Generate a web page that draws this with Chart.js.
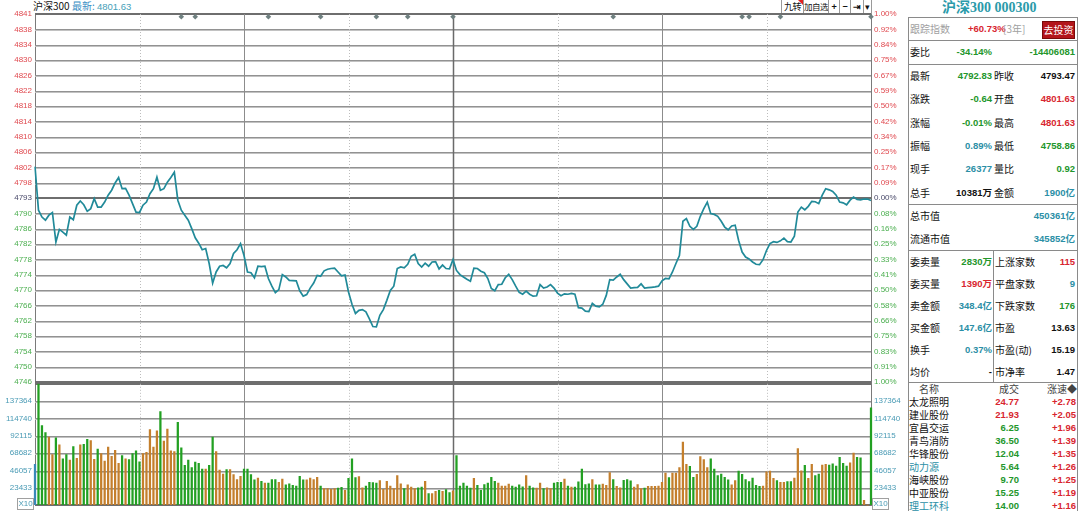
<!DOCTYPE html>
<html>
<head>
<meta charset="utf-8">
<script src="https://cdn.jsdelivr.net/npm/chart.js"></script>
<style>
  body { margin: 0; background: #fff; }
  #wrap { position: relative; width: 1080px; height: 511px; overflow: hidden; background: #fff;
          font-family: 'Noto Sans CJK SC', 'Liberation Sans', sans-serif; }
  canvas { position: absolute; left: 0; }
  .t { position: absolute; white-space: nowrap; font-size: 10px; line-height: 14px; color: #111; }
  .n { font-family: 'Liberation Sans', Arial, 'Noto Sans CJK SC', sans-serif; font-weight: bold; font-size: 9.5px; }
  .hl { position: absolute; height: 1px; background: #8a8a8a; }
  .vl { position: absolute; width: 1px; background: #8a8a8a; }
  .btn { position: absolute; top: 0; height: 13px; border: 1px solid #9a9a9a; border-top: none; font-size: 9px;
         line-height: 13px; text-align: center; color: #111; background: #fff; white-space: nowrap;
         overflow: hidden; letter-spacing: -0.5px; }
  .x10 { position: absolute; width: 15px; height: 10px; border: 1px solid #a0a0a0; font: 8px 'Liberation Sans', Arial;
         line-height: 10px; text-align: center; color: #4a9bb5; }
</style>
</head>
<body>
<div id="wrap">
  <div class="t" style="left:33px;top:-1px;font-size:10px">沪深300 <span style="color:#3b8ec4">最新:</span> <span class="n" style="color:#46a0b8;font-weight:normal;font-size:9.5px">4801.63</span></div>
  <div class="btn" style="left:781px;width:21px">九转<span style="position:absolute;right:0;top:0;width:0;height:0;border-left:5px solid transparent;border-top:5px solid #e02020"></span></div>
  <div class="btn" style="left:803px;width:24px;font-size:8.5px">加自选</div>
  <div class="btn" style="left:828px;width:10px;font-weight:bold">+</div>
  <div class="btn" style="left:839px;width:10px;font-weight:bold">−</div>
  <div class="btn" style="left:850px;width:12px;font-weight:bold">⇥</div>
  <div class="btn" style="left:863px;width:7px">▾</div>

  <canvas id="priceCanvas" width="906" height="390" style="top:0"></canvas>
  <canvas id="volCanvas" width="906" height="137" style="top:376px"></canvas>
  <div class="x10" style="left:17px;top:498px">X10</div>
  <div class="x10" style="left:872px;top:498px">X10</div>

  <div id="panel"></div>
</div>

<script>
// ---- chart data ----
const prevClose = 4793.47;
const rangePct = 0.01;

// one point per minute, 09:30 .. 11:30 / 13:01 .. 15:00
const prices = [
  4801.63, 4790.3, 4788.5, 4787.7, 4789.0, 4789.7, 4782.0, 4785.3, 4784.6, 4783.8,
  4788.5, 4787.8, 4791.6, 4792.7, 4791.7, 4790.0, 4790.7, 4793.3, 4791.1, 4791.1,
  4792.4, 4794.2, 4795.5, 4797.4, 4798.8, 4795.9, 4796.0, 4794.2, 4792.0, 4789.8,
  4789.7, 4791.6, 4792.4, 4794.6, 4795.9, 4798.9, 4795.5, 4795.9, 4797.6, 4798.8,
  4800.2, 4792.9, 4790.3, 4789.0, 4787.7, 4785.5, 4783.1, 4781.7, 4780.0, 4780.3,
  4776.4, 4771.3, 4774.2, 4775.7, 4775.9, 4775.3, 4776.4, 4779.0, 4780.0, 4781.6,
  4778.5, 4774.2, 4774.0, 4772.7, 4775.7, 4775.6, 4775.7, 4772.5, 4770.5, 4768.8,
  4769.6, 4773.5, 4772.9, 4772.0, 4771.95, 4771.9, 4769.3, 4767.9, 4768.3, 4770.0,
  4771.3, 4773.3, 4773.1, 4774.5, 4774.9, 4775.1, 4775.2, 4774.2, 4773.2, 4773.4,
  4769.0, 4765.8, 4763.4, 4764.2, 4764.4, 4763.8, 4762.0, 4760.0, 4759.9, 4762.9,
  4764.4, 4766.8, 4769.4, 4770.5, 4775.1, 4775.5, 4775.3, 4776.2, 4778.3, 4778.8,
  4776.4, 4775.5, 4776.5, 4775.7, 4776.8, 4776.9, 4775.0, 4776.0, 4775.1, 4775.0,
  4777.4, 4774.6, 4773.5, 4772.9, 4772.3, 4771.8, 4775.2, 4775.1, 4774.4, 4774.0,
  4772.5, 4769.9, 4769.3, 4770.9, 4771.0, 4772.7, 4773.6, 4772.2, 4770.5, 4768.9,
  4768.4, 4769.2, 4768.4, 4767.9, 4768.0, 4770.9, 4770.0, 4770.3, 4770.9, 4770.0,
  4768.7, 4768.0, 4768.5, 4768.4, 4768.6, 4768.4, 4764.9, 4764.8, 4764.0, 4763.9,
  4766.0, 4765.3, 4765.1, 4765.8, 4768.1, 4772.2, 4772.1, 4772.9, 4773.6, 4772.2,
  4771.1, 4770.0, 4770.1, 4770.2, 4771.1, 4770.0, 4770.1, 4770.2, 4770.3, 4770.5,
  4771.9, 4772.5, 4772.4, 4774.2, 4776.4, 4778.5, 4787.4, 4788.1, 4786.1, 4785.3,
  4786.1, 4788.7, 4790.7, 4792.4, 4789.4, 4789.2, 4788.7, 4787.4, 4785.9, 4785.2,
  4786.2, 4786.4, 4782.4, 4779.4, 4778.1, 4777.6, 4776.8, 4776.2, 4776.1, 4777.4,
  4779.8, 4781.6, 4782.1, 4781.9, 4782.3, 4783.0, 4782.1, 4782.0, 4783.5, 4789.8,
  4791.1, 4790.4, 4791.3, 4792.6, 4792.5, 4792.0, 4794.2, 4795.9, 4795.6, 4795.2,
  4794.2, 4792.4, 4792.2, 4791.7, 4792.9, 4793.7, 4793.1, 4793.0, 4793.2, 4793.2,
  4792.83
];

const volumes = [
  53300, 158000, 104000, 94800, 89000, 66000, 88000, 78700, 60500, 66000,
  58800, 76600, 61000, 78700, 79500, 85900, 84200, 60000, 73200, 67300,
  57500, 75700, 63900, 71500, 54600, 64700, 60500, 59600, 67300, 71000,
  56700, 67300, 69000, 98600, 75700, 96900, 122000, 83800, 99400, 71000,
  69800, 108000, 74900, 52000, 58800, 49000, 56300, 54600, 47000, 47000,
  52000, 89000, 70000, 45700, 40600, 46500, 46500, 39800, 33400, 37600,
  47000, 47000, 40000, 33000, 35500, 31000, 29000, 29000, 33400, 33400,
  30000, 34000, 26600, 28000, 25800, 25000, 37600, 33000, 33000, 35500,
  33400, 36400, 25000, 21600, 21600, 20700, 21600, 22400, 23300, 19500,
  35000, 60500, 36000, 37200, 22800, 25000, 30000, 29600, 29000, 32000,
  20700, 31000, 25000, 21600, 38500, 28000, 21600, 26600, 23700, 21600,
  22800, 23700, 31300, 15200, 15200, 18200, 19500, 18200, 20300, 16500,
  18600, 64700, 25000, 28800, 25000, 22400, 35000, 25800, 19500, 27000,
  29000, 36400, 31300, 29000, 25000, 25000, 27500, 25000, 23700, 26600,
  24100, 38500, 25000, 22800, 22400, 29000, 21600, 22800, 21600, 29000,
  30000, 30000, 34000, 25000, 23700, 23700, 30500, 47000, 27000, 28000,
  33400, 26600, 26600, 27500, 25800, 42700, 33400, 24500, 22800, 32600,
  33400, 31700, 23700, 27000, 21600, 22400, 24500, 24500, 24500, 25000,
  30000, 41900, 36000, 41900, 41900, 49000, 82500, 53300, 50800, 36400,
  40200, 63500, 59600, 49000, 60500, 47000, 38500, 40600, 36400, 33000,
  26600, 32000, 44400, 40200, 33400, 30900, 35500, 25800, 24500, 25000,
  43600, 44400, 35000, 32000, 30000, 30000, 30900, 30900, 35500, 74000,
  44800, 52000, 35000, 53300, 38500, 40600, 52500, 53300, 52500, 54100,
  51200, 62600, 54600, 51200, 55400, 68000, 62600, 61800, 6300, 0,
  127000
];

const priceTickLabels = ['4841', '4838', '4834', '4830', '4826', '4822', '4818', '4814', '4810', '4806',
  '4802', '4798', '4793', '4790', '4786', '4782', '4778', '4774', '4770', '4766', '4762', '4758',
  '4754', '4750', '4746'];
const pctTickLabels = ['1.00%', '0.92%', '0.84%', '0.75%', '0.67%', '0.59%', '0.50%', '0.42%', '0.34%',
  '0.25%', '0.17%', '0.09%', '0.00%', '0.08%', '0.16%', '0.25%', '0.33%', '0.41%', '0.50%', '0.58%',
  '0.66%', '0.75%', '0.83%', '0.91%', '1.00%'];
const volTickLabels = ['137364', '114740', '92115', '68682', '46057', '23433'];
const volMax = 158400;

// event markers along the top edge (minute index)
const markerMinutes = [42, 46, 67, 82, 98, 107, 120, 166, 203, 205, 214, 240];

// ---- derived ----
const minutes = [];
for (let h = 0; h < 241; h++) {
  const t = h <= 120 ? 9 * 60 + 30 + h : 13 * 60 + (h - 120);
  minutes.push(String(Math.floor(t / 60)).padStart(2, '0') + ':' + String(t % 60).padStart(2, '0'));
}
const priceMax = prevClose * (1 + rangePct);
const priceMin = prevClose * (1 - rangePct);
const priceStep = (priceMax - priceMin) / 24;
const priceGrid = Array.from({ length: 25 }, (_, k) => priceMin + k * priceStep);
const volStep = volMax / 7;
const volGrid = Array.from({ length: 8 }, (_, k) => k * volStep);
const markerLevel = priceMax - (priceMax - priceMin) * 0.0075;

const RED = '#e04a50', GREEN = '#4caf50', MID = '#4a4a6a', VOLC = '#4a9bb5';
const UP_BAR = '#c47f2c', DOWN_BAR = '#22a022';
const tickFont = { family: "'Liberation Sans', Arial, sans-serif", size: 8 };

// horizontal grid at the given axis values, vertical session lines from the x scale
function gridLines(values, strong) {
  return {
    id: 'gridLines',
    beforeDatasetsDraw(chart) {
      const { ctx, chartArea: a } = chart;
      const y = chart.scales.y, x = chart.scales.x;
      ctx.save();
      for (let i = 0; i < values.length; i++) {
        const py = Math.round(y.getPixelForValue(values[i]));
        const s = strong.indexOf(i) >= 0;
        ctx.fillStyle = s ? '#6e6e6e' : '#929292';
        ctx.fillRect(a.left, s ? py - 1 : py, a.right - a.left, s ? 2 : 1);
        if (!s) {
          ctx.fillStyle = '#c2c2c2';
          ctx.fillRect(a.left, py + 1, a.right - a.left, 1);
        }
      }
      [30, 60, 90, 120, 150, 180, 210].forEach(m => {
        const px = Math.round(x.getPixelForValue(m)) + 0.5;
        const half = m % 60 !== 0;
        ctx.beginPath();
        ctx.setLineDash(half ? [1, 2] : []);
        ctx.strokeStyle = half ? '#bdbdbd' : (m === 120 ? '#6a6a6a' : '#8c8c8c');
        ctx.lineWidth = m === 120 ? 1.5 : 1;
        ctx.moveTo(px, a.top);
        ctx.lineTo(px, a.bottom);
        ctx.stroke();
      });
      ctx.restore();
    }
  };
}

const fixWidth = s => { s.width = 35; };

new Chart(document.getElementById('priceCanvas'), {
  type: 'line',
  data: {
    labels: minutes,
    datasets: [
      { data: prices, borderColor: '#218a99', borderWidth: 1.7, pointRadius: 0, tension: 0, yAxisID: 'y' },
      {
        data: prices.map((_, i) => markerMinutes.includes(i) ? markerLevel : null),
        showLine: false, pointStyle: 'rectRot', pointRadius: 2.8, pointBackgroundColor: '#6f8080',
        pointBorderWidth: 0, yAxisID: 'y', clip: false
      }
    ]
  },
  options: {
    responsive: false, animation: false, devicePixelRatio: 1,
    layout: { padding: { top: 14, bottom: 8, left: 0, right: 0 } },
    plugins: { legend: { display: false }, tooltip: { enabled: false } },
    scales: {
      x: { display: false },
      y: {
        position: 'left', min: priceMin, max: priceMax,
        afterBuildTicks: s => { s.ticks = priceGrid.map(v => ({ value: v })); },
        afterFit: fixWidth,
        ticks: {
          autoSkip: false, padding: 3, font: tickFont,
          color: c => c.index > 12 ? RED : (c.index < 12 ? GREEN : MID),
          callback: (v, i) => priceTickLabels[24 - i]
        },
        grid: { drawOnChartArea: false, drawTicks: false },
        border: { color: '#7a7a7a', width: 1 }
      },
      y2: {
        position: 'right', min: priceMin, max: priceMax,
        afterBuildTicks: s => { s.ticks = priceGrid.map(v => ({ value: v })); },
        afterFit: fixWidth,
        ticks: {
          autoSkip: false, padding: 3, font: tickFont,
          color: c => c.index > 12 ? RED : (c.index < 12 ? GREEN : MID),
          callback: (v, i) => pctTickLabels[24 - i]
        },
        grid: { drawOnChartArea: false, drawTicks: false },
        border: { color: '#7a7a7a', width: 1 }
      }
    }
  },
  plugins: [gridLines(priceGrid, [0, 12, 24])]
});

new Chart(document.getElementById('volCanvas'), {
  type: 'bar',
  data: {
    labels: minutes,
    datasets: [{
      data: volumes,
      backgroundColor: c => c.dataIndex === 0 ? '#3a88b8'
        : (prices[c.dataIndex] >= prices[c.dataIndex - 1] ? UP_BAR : DOWN_BAR),
      barThickness: 1.6, clip: 2, yAxisID: 'y'
    }]
  },
  options: {
    responsive: false, animation: false, devicePixelRatio: 1,
    layout: { padding: { top: 6, bottom: 6, left: 0, right: 0 } },
    plugins: { legend: { display: false }, tooltip: { enabled: false } },
    scales: {
      x: { display: false, offset: false },
      y: {
        position: 'left', min: 0, max: volMax,
        afterBuildTicks: s => { s.ticks = volGrid.map(v => ({ value: v })); },
        afterFit: fixWidth,
        ticks: {
          autoSkip: false, padding: 3, font: tickFont, color: VOLC,
          callback: (v, i) => (i >= 1 && i <= 6) ? volTickLabels[6 - i] : ''
        },
        grid: { drawOnChartArea: false, drawTicks: false },
        border: { color: '#7a7a7a', width: 1 }
      },
      y2: {
        position: 'right', min: 0, max: volMax,
        afterBuildTicks: s => { s.ticks = volGrid.map(v => ({ value: v })); },
        afterFit: fixWidth,
        ticks: {
          autoSkip: false, padding: 3, font: tickFont, color: VOLC,
          callback: (v, i) => (i >= 1 && i <= 6) ? volTickLabels[6 - i] : ''
        },
        grid: { drawOnChartArea: false, drawTicks: false },
        border: { color: '#7a7a7a', width: 1 }
      }
    }
  },
  plugins: [gridLines(volGrid, [0, 7])]
});

// ---- quote panel ----
const C = { red: '#d8262f', green: '#23962b', teal: '#2b8fa6', black: '#111', gray: '#a0a0a0' };
const panel = document.getElementById('panel');
function put(text, x, y, cls, color, right) {
  const d = document.createElement('div');
  d.className = 't ' + (cls || '');
  d.textContent = text;
  d.style.top = (y - 7) + 'px';
  if (right) d.style.right = (1080 - x) + 'px'; else d.style.left = x + 'px';
  if (color) d.style.color = color;
  panel.appendChild(d);
  return d;
}
function line(cls, l, t, len) {
  const d = document.createElement('div');
  d.className = cls;
  d.style.left = l + 'px'; d.style.top = t + 'px';
  if (cls === 'hl') d.style.width = len + 'px'; else d.style.height = len + 'px';
  panel.appendChild(d);
}

const title = put('沪深300 000300', 942, 8, '', '#2a9aaa');
title.style.fontFamily = "'Liberation Serif', 'Noto Sans CJK SC', serif";
title.style.fontSize = '14px';
title.style.fontWeight = 'bold';

line('vl', 908, 17, 494);
line('vl', 1077, 17, 494);
[17, 40, 64, 204, 250, 382].forEach(y => line('hl', 908, y, 170));
line('vl', 993, 250, 132);

put('跟踪指数', 910, 29, '', C.gray);
put('+60.73%', 968, 29, 'n', C.red);
put('[3年]', 1003, 29, '', C.gray);
const b = put('去投资', 1042, 29, '', '#fff');
b.style.background = '#b3151b'; b.style.width = '31px'; b.style.height = '16px';
b.style.lineHeight = '16px'; b.style.top = '21px'; b.style.textAlign = 'center';
b.style.border = '1px solid #7a0a0a';

put('委比', 910, 52.3);
put('-34.14%', 992, 52.3, 'n', C.green, true);
put('-14406081', 1075, 52.3, 'n', C.green, true);

const quoteRows = [
  ['最新', '4792.83', 'green', '昨收', '4793.47', 'black'],
  ['涨跌', '-0.64', 'green', '开盘', '4801.63', 'red'],
  ['涨幅', '-0.01%', 'green', '最高', '4801.63', 'red'],
  ['振幅', '0.89%', 'teal', '最低', '4758.86', 'green'],
  ['现手', '26377', 'teal', '量比', '0.92', 'green'],
  ['总手', '10381万', 'black', '金额', '1900亿', 'teal']
];
quoteRows.forEach((r, i) => {
  const y = 76 + i * 23.35;
  put(r[0], 910, y);
  put(r[1], 992, y, 'n', C[r[2]], true);
  put(r[3], 994, y);
  put(r[4], 1075, y, 'n', C[r[5]], true);
});

[['总市值', '450361亿'], ['流通市值', '345852亿']].forEach((r, i) => {
  const y = 216 + i * 23.3;
  put(r[0], 910, y);
  put(r[1], 1075, y, 'n', C.teal, true);
});

const orderRows = [
  ['委卖量', '2830万', 'green', '上涨家数', '115', 'red'],
  ['委买量', '1390万', 'red', '平盘家数', '9', 'teal'],
  ['卖金额', '348.4亿', 'teal', '下跌家数', '176', 'green'],
  ['买金额', '147.6亿', 'teal', '市盈', '13.63', 'black'],
  ['换手', '0.37%', 'teal', '市盈(动)', '15.19', 'black'],
  ['均价', '-', 'black', '市净率', '1.47', 'black']
];
orderRows.forEach((r, i) => {
  const y = 262.3 + i * 21.9;
  put(r[0], 910, y);
  put(r[1], 992, y, 'n', C[r[2]], true);
  put(r[3], 995, y);
  put(r[4], 1075, y, 'n', C[r[5]], true);
});

put('名称', 919, 389.3, '', '#444');
put('成交', 999, 389.3, '', '#444');
put('涨速◆', 1077, 389.3, '', '#444', true);

const moverRows = [
  ['太龙照明', '24.77', 'red', '+2.78', 'black'],
  ['建业股份', '21.93', 'red', '+2.05', 'black'],
  ['宜昌交运', '6.25', 'green', '+1.96', 'black'],
  ['青鸟消防', '36.50', 'green', '+1.39', 'black'],
  ['华锋股份', '12.04', 'green', '+1.35', 'black'],
  ['动力源', '5.64', 'green', '+1.26', 'teal'],
  ['海峡股份', '9.70', 'green', '+1.25', 'black'],
  ['中亚股份', '15.25', 'green', '+1.19', 'black'],
  ['理工环科', '14.00', 'green', '+1.16', 'teal']
];
moverRows.forEach((r, i) => {
  const y = 402 + i * 13;
  put(r[0], 909, y, '', C[r[4]]);
  put(r[1], 1019, y, 'n', C[r[2]], true);
  put(r[3], 1076, y, 'n', C.red, true);
});
</script>
</body>
</html>
